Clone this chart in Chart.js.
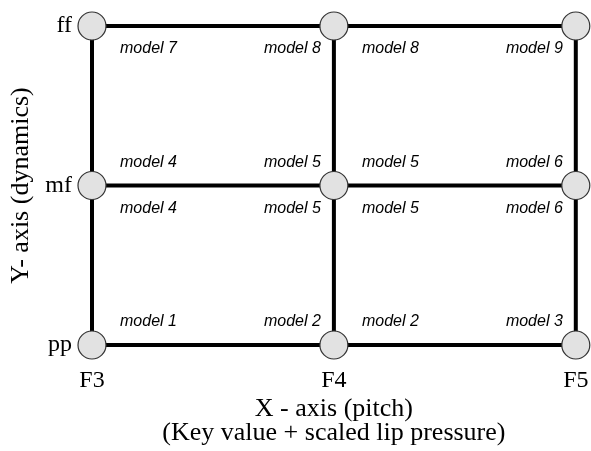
<!DOCTYPE html>
<html>
<head>
<meta charset="utf-8">
<script src="https://cdn.jsdelivr.net/npm/chart.js@4/dist/chart.umd.min.js"></script>
<style>
  html, body { margin: 0; padding: 0; background: #fff; }
  #wrap { width: 591px; height: 451px; }
</style>
</head>
<body>
<div id="wrap"><canvas id="modelGrid"></canvas></div>
<script>
// DATA
const xTicks = ['F3', 'F4', 'F5']        // pitch
const yTicks = ['pp', 'mf', 'ff']        // dynamics
// model number at each node, rows from pp up to ff
const nodeModels = [
  [1, 2, 3],
  [4, 5, 6],
  [7, 8, 9]
]
const xTitle = ['X - axis (pitch)', '(Key value + scaled lip pressure)']
const yTitle = 'Y- axis (dynamics)'

// nodes + grid lines built from the tick arrays
const nodes = []
yTicks.forEach((_, j) => xTicks.forEach((_, i) => nodes.push({ x: i, y: j })))

const lineStyle = {
  showLine: true,
  borderColor: '#000',
  borderWidth: 4,
  pointRadius: 0,
  clip: false
}

const rowLines = yTicks.map((_, j) => ({
  ...lineStyle,
  data: xTicks.map((_, i) => ({ x: i, y: j }))
}))
const colLines = xTicks.map((_, i) => ({
  ...lineStyle,
  data: yTicks.map((_, j) => ({ x: i, y: j }))
}))

// "model N" text in the four corners of every cell
const modelLabels = {
  id: 'modelLabels',
  afterDatasetsDraw(chart) {
    const ctx = chart.ctx
    const xs = chart.scales.x, ys = chart.scales.y
    ctx.save()
    ctx.font = 'italic 16px "Liberation Sans", Arial, sans-serif'
    ctx.fillStyle = '#000'
    ctx.textBaseline = 'middle'
    for (let j = 0; j < yTicks.length - 1; j++) {
      for (let i = 0; i < xTicks.length - 1; i++) {
        const x0 = xs.getPixelForValue(i), x1 = xs.getPixelForValue(i + 1)
        const y0 = ys.getPixelForValue(j), y1 = ys.getPixelForValue(j + 1)
        const corners = [
          [i, j, x0 + 28, y0 - 23, 'left'],
          [i + 1, j, x1 - 13, y0 - 23, 'right'],
          [i, j + 1, x0 + 28, y1 + 23, 'left'],
          [i + 1, j + 1, x1 - 13, y1 + 23, 'right']
        ]
        corners.forEach(([ci, cj, px, py, align]) => {
          ctx.textAlign = align
          ctx.fillText('model ' + nodeModels[cj][ci], px, py)
        })
      }
    }
    ctx.restore()
  }
}

const serif = '"Liberation Serif", "Times New Roman", serif'

new Chart(document.getElementById('modelGrid'), {
  type: 'scatter',
  data: {
    datasets: [
      {
        data: nodes,
        pointRadius: 14,
        pointHoverRadius: 14,
        backgroundColor: '#e2e2e2',
        borderColor: '#333',
        borderWidth: 1.2,
        clip: false
      },
      ...rowLines,
      ...colLines
    ]
  },
  options: {
    responsive: true,
    maintainAspectRatio: false,
    animation: false,
    events: [],
    layout: { padding: { top: 26, right: 14, left: 0, bottom: 0 } },
    plugins: {
      legend: { display: false },
      tooltip: { enabled: false }
    },
    scales: {
      x: {
        type: 'linear',
        min: 0,
        max: xTicks.length - 1,
        afterFit: (s) => { s.height = 106; s.paddingLeft = 0; s.paddingRight = 0 },
        grid: { display: false, drawTicks: false },
        border: { display: false },
        ticks: {
          stepSize: 1,
          padding: 21,
          maxRotation: 0,
          color: '#000',
          font: { family: serif, size: 24 },
          callback: (v) => xTicks[v]
        },
        title: {
          display: true,
          text: xTitle,
          color: '#000',
          font: { family: serif, size: 26, lineHeight: 0.93 },
          padding: { top: 0, bottom: 6 }
        }
      },
      y: {
        type: 'linear',
        min: 0,
        max: yTicks.length - 1,
        afterFit: (s) => { s.width = 92; s.paddingTop = 0; s.paddingBottom = 0 },
        grid: { display: false, drawTicks: false },
        border: { display: false },
        ticks: {
          stepSize: 1,
          padding: 20,
          color: '#000',
          font: { family: serif, size: 24 },
          callback: (v) => yTicks[v]
        },
        title: {
          display: true,
          text: yTitle,
          color: '#000',
          font: { family: serif, size: 26 },
          padding: { top: 6, bottom: 0 }
        }
      }
    }
  },
  plugins: [modelLabels]
})
</script>
</body>
</html>
